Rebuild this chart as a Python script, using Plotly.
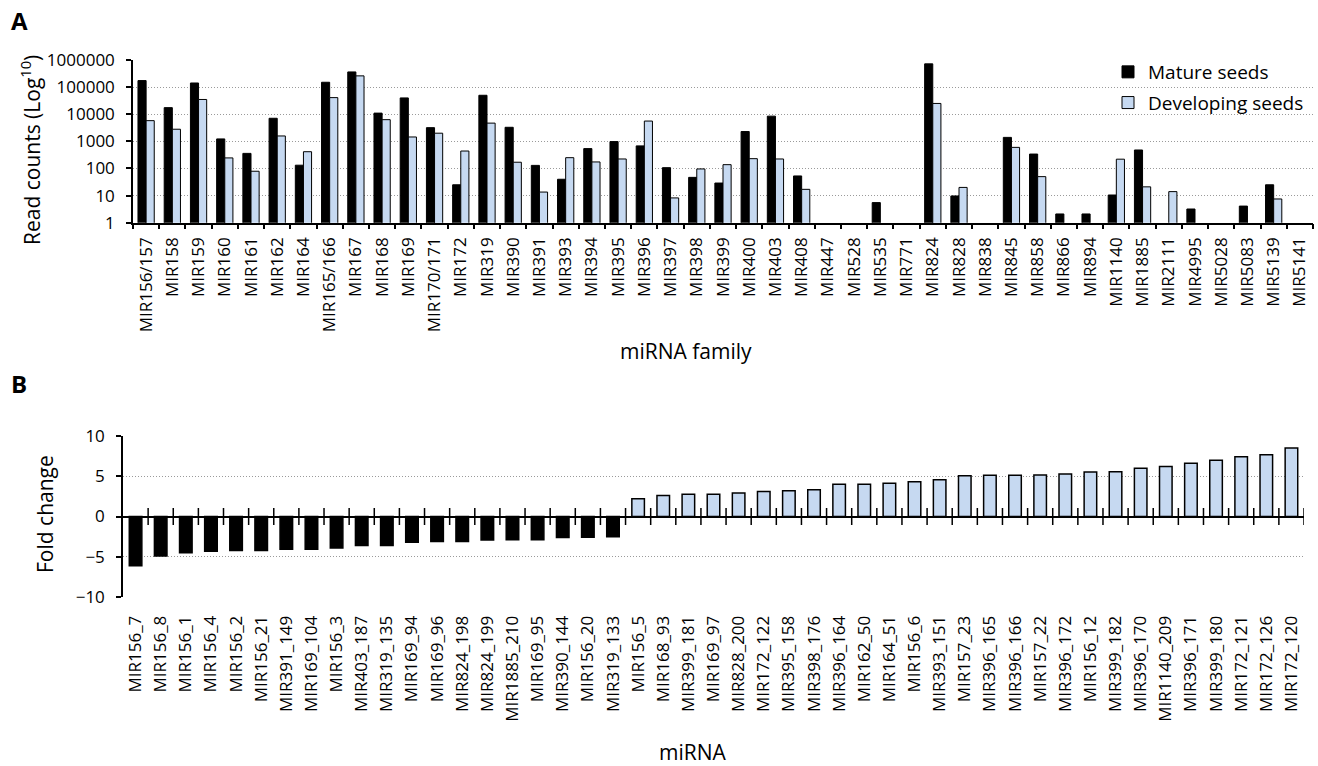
import plotly.graph_objects as go

W, H = 1318, 766

# ---------- Panel A data ----------
families = ["MIR156/157", "MIR158", "MIR159", "MIR160", "MIR161", "MIR162", "MIR164",
            "MIR165/166", "MIR167", "MIR168", "MIR169", "MIR170/171", "MIR172", "MIR319",
            "MIR390", "MIR391", "MIR393", "MIR394", "MIR395", "MIR396", "MIR397", "MIR398",
            "MIR399", "MIR400", "MIR403", "MIR408", "MIR447", "MIR528", "MIR535", "MIR771",
            "MIR824", "MIR828", "MIR838", "MIR845", "MIR858", "MIR866", "MIR894", "MIR1140",
            "MIR1885", "MIR2111", "MIR4995", "MIR5028", "MIR5083", "MIR5139", "MIR5141"]
mature = [174000, 17500, 142000, 1230, 360, 7100, 132, 151000, 363000, 11000, 40000, 3200,
          25, 50000, 3300, 130, 40, 540, 980, 680, 107, 47, 29, 2300, 8500, 53, None, None,
          5.5, None, 720000, 9.7, None, 1400, 340, 2.1, 2.1, 10.5, 480, None, 3.2, None,
          4.1, 25, None]
developing = [5800, 2800, 35000, 245, 79, 1580, 415, 41000, 260000, 6300, 1450, 2000, 440,
              4700, 170, 13.5, 250, 174, 224, 5600, 8.2, 96, 138, 230, 224, 17, None, None,
              None, None, 25000, 20, None, 600, 50, None, None, 220, 21, 14, None, None,
              None, 7.5, None]
a_tickvals = [1, 10, 100, 1000, 10000, 100000, 1000000]
a_ticktext = ["1", "10", "100", "1000", "10000", "100000", "1000000"]

# ---------- Panel B data ----------
mirnas = ["MIR156_7", "MIR156_8", "MIR156_1", "MIR156_4", "MIR156_2", "MIR156_21",
          "MIR391_149", "MIR169_104", "MIR156_3", "MIR403_187", "MIR319_135", "MIR169_94",
          "MIR169_96", "MIR824_198", "MIR824_199", "MIR1885_210", "MIR169_95", "MIR390_144",
          "MIR156_20", "MIR319_133", "MIR156_5", "MIR168_93", "MIR399_181", "MIR169_97",
          "MIR828_200", "MIR172_122", "MIR395_158", "MIR398_176", "MIR396_164", "MIR162_50",
          "MIR164_51", "MIR156_6", "MIR393_151", "MIR157_23", "MIR396_165", "MIR396_166",
          "MIR157_22", "MIR396_172", "MIR156_12", "MIR399_182", "MIR396_170", "MIR1140_209",
          "MIR396_171", "MIR399_180", "MIR172_121", "MIR172_126", "MIR172_120"]
fold = [-6.1, -4.9, -4.5, -4.3, -4.2, -4.2, -4.05, -4.05, -3.9, -3.6, -3.6, -3.2, -3.1,
        -3.1, -2.9, -2.87, -2.87, -2.6, -2.58, -2.5, 2.2, 2.6, 2.75, 2.75, 2.9, 3.1, 3.2,
        3.3, 4.0, 4.0, 4.1, 4.3, 4.55, 5.05, 5.1, 5.1, 5.15, 5.27, 5.5, 5.55, 5.97, 6.2,
        6.6, 6.95, 7.4, 7.65, 8.48]
b_tickvals = [-10, -5, 0, 5, 10]

BLUE = "#C6D9F1"
FONT = "Open Sans"
GRID = "#9a9a9a"
DOTS = "1px,2px"

def px_x(p):
    return p / W

def px_y(p):
    return 1 - p / H

fig = go.Figure()

fig.add_trace(go.Bar(x=families, y=mature, name="Mature seeds",
                     marker=dict(color="black", line=dict(color="black", width=1)),
                     xaxis="x", yaxis="y", legendgroup="a"))
fig.add_trace(go.Bar(x=families, y=developing, name="Developing seeds",
                     marker=dict(color=BLUE, line=dict(color="black", width=1)),
                     xaxis="x", yaxis="y", legendgroup="b"))

idx = list(range(len(mirnas)))
fig.add_trace(go.Bar(x=idx, y=fold, width=0.5, showlegend=False,
                     marker=dict(color=["black" if v < 0 else BLUE for v in fold],
                                 line=dict(color="black", width=1.5)),
                     xaxis="x2", yaxis="y2", hoverinfo="x+y"))
fig.add_trace(go.Scatter(x=[i + 0.5 for i in idx], y=[0] * len(idx), mode="markers",
                         marker=dict(symbol="line-ns", size=12,
                                     line=dict(color="black", width=1.5)),
                         showlegend=False, hoverinfo="skip", xaxis="x2", yaxis="y2"))

tickfont = dict(family=FONT, size=17, color="black")


def label(text, x, y, size=21, angle=0):
    return dict(text=text, x=px_x(x), y=px_y(y), xref="paper", yref="paper",
                xanchor="center", yanchor="middle", textangle=angle, showarrow=False,
                font=dict(family=FONT, size=size, color="black"))


fig.update_layout(
    width=W, height=H,
    margin=dict(l=0, r=0, t=0, b=0, autoexpand=False),
    paper_bgcolor="white", plot_bgcolor="white",
    barmode="group", bargap=0.38, bargroupgap=0,
    font=dict(family=FONT, color="black"),
    xaxis=dict(domain=[px_x(133), px_x(1313)], anchor="y", type="category",
               automargin=False,
               showline=True, linecolor="black", linewidth=1.5,
               ticks="outside", tickson="boundaries", ticklen=5, tickwidth=1.5,
               tickcolor="black", tickangle=-90, tickfont=tickfont,
               ticklabelstandoff=6, showgrid=False),
    yaxis=dict(domain=[px_y(222.7), px_y(60)], anchor="x", type="log", range=[0, 6],
               automargin=False,
               tickvals=a_tickvals, ticktext=a_ticktext, tickfont=tickfont,
               showline=True, linecolor="black", linewidth=1.5,
               ticks="outside", ticklen=5, tickwidth=1.5, tickcolor="black",
               ticklabelstandoff=8,
               showgrid=True, gridcolor=GRID, griddash=DOTS, gridwidth=1),
    xaxis2=dict(domain=[px_x(123), px_x(1304)], anchor="y2", range=[-0.5, len(mirnas) - 0.5],
                automargin=False,
                tickvals=idx, ticktext=mirnas, tickangle=-90, tickfont=tickfont,
                ticks="", showline=False, showgrid=False, zeroline=False,
                ticklabelstandoff=14),
    yaxis2=dict(domain=[px_y(597.3), px_y(435.7)], anchor="x2", range=[-10, 10],
                automargin=False,
                tickvals=b_tickvals, tickfont=tickfont,
                showline=True, linecolor="black", linewidth=1.5,
                ticks="outside", ticklen=5, tickwidth=1.5, tickcolor="black",
                ticklabelstandoff=8,
                showgrid=True, gridcolor=GRID, griddash=DOTS, gridwidth=1,
                zeroline=True, zerolinecolor="black", zerolinewidth=2),
    legend=dict(x=px_x(1108), y=px_y(53), xanchor="left", yanchor="top",
                font=dict(family=FONT, size=19, color="black"),
                bgcolor="rgba(0,0,0,0)", traceorder="grouped", tracegroupgap=3),
    annotations=[
        label("<b>A</b>", 19, 20, size=24),
        label("<b>B</b>", 19, 383, size=24),
        label("Read counts (Log<sup>10</sup>)", 31, 150, angle=-90),
        label("miRNA family", 686, 351),
        label("Fold change", 45, 514, angle=-90),
        label("miRNA", 693, 752),
    ],
)

fig.write_html("out.html", config={"displayModeBar": False},
               post_script="document.body.style.margin='0';")
